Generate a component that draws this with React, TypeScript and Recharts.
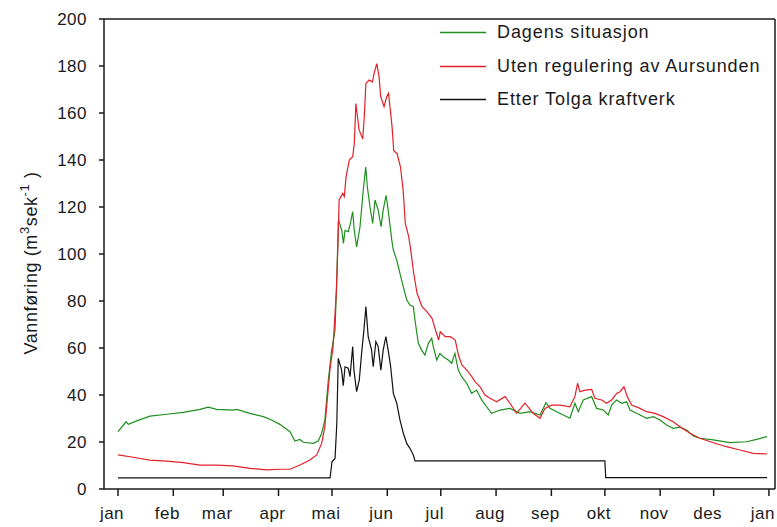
import { LineChart, Line, XAxis, YAxis, ReferenceLine } from 'recharts'

// dag i året (0 = 1. jan), vannføring m3/s
const dagens: [number, number][] = [
  [0, 24.4], [4.5, 28.6], [5.8, 27.5], [10.5, 29], [17.9, 31], [27.3, 31.8],
  [36.6, 32.6], [46, 33.9], [50.6, 34.8], [55.3, 33.9], [64.6, 33.6], [66.6, 33.9],
  [74, 32.2], [81.5, 30.8], [85.2, 29.7], [90.8, 27.5], [96.4, 24.4], [99.2, 20.4],
  [102, 21.1], [103.9, 19.9], [109.5, 19.4], [112.3, 20.4], [114.2, 23.7], [116, 29.4],
  [117.9, 46], [119.8, 59], [121.7, 67.7], [122.7, 90], [123.6, 114.5], [125.5, 110],
  [126.4, 104.5], [127.3, 110], [129.1, 109.5], [130.1, 112.3], [131.6, 118], [132.5, 110],
  [133.8, 103], [135.7, 111.6], [137.5, 127], [138.9, 137], [139.8, 128.6], [141.3, 120],
  [142.8, 113], [144.1, 123], [145.9, 118.7], [147.5, 111.6], [148.7, 118.7], [150.3, 125],
  [151.5, 118.7], [153.5, 106], [154.4, 101.7], [156.3, 97.4], [158.1, 91.8], [160, 86],
  [161.9, 80.4], [163.7, 78.3], [165.6, 77.6], [166.5, 72], [168.4, 62], [170.3, 59.1],
  [172.1, 57], [174, 62], [175.9, 64.1], [176.8, 60.6], [178.7, 54.9], [180.5, 57.7],
  [182.4, 56.3], [185.2, 54.9], [187.1, 53.5], [188.9, 57.7], [190.8, 50.6], [192.7, 47.8],
  [195.5, 45], [198.3, 40.7], [201.1, 42.1], [203.9, 37.9], [206.7, 35], [209.5, 32.2],
  [214.2, 33.6], [219.8, 34.3], [225.4, 32.2], [231, 32.9], [236.6, 31.5], [240, 36.7],
  [242.2, 34.3], [246, 32.9], [249.7, 31.5], [253.4, 30.1], [256.2, 36.5], [258.1, 32.9],
  [260.9, 37.9], [265.6, 39.3], [268.4, 34.3], [272.1, 33.6], [274.9, 31.5], [276.8, 35.7],
  [279.6, 37.9], [282.4, 36.5], [285.2, 37.1], [287.1, 33.6], [292.7, 31.5], [296.4, 30.1],
  [300.1, 30.8], [303.9, 29.4], [307.6, 27.2], [311.3, 25.8], [315.1, 26.3], [318.8, 25.1],
  [322.6, 22.6], [326.3, 21.6], [333.8, 20.9], [343.1, 19.7], [352.5, 20.1], [358.1, 21.1],
  [364, 22.3],
]

const utenRegulering: [number, number][] = [
  [0, 14.5], [8.6, 13.5], [17.9, 12.3], [27.3, 11.9], [36.6, 11.2], [46, 10.2],
  [55.3, 10.2], [64.6, 9.8], [74, 8.8], [83.4, 8.1], [90.8, 8.4], [96.4, 8.4],
  [102, 10.2], [107.6, 12.3], [111.4, 14.5], [114.2, 19.4], [116, 26.5], [117, 35],
  [118.8, 50.6], [120.6, 60.6], [122.5, 84.7], [123.4, 106], [124, 123], [126, 125.8],
  [126.9, 124.4], [127.9, 132.9], [129.7, 140], [131.6, 141.4], [132.5, 147], [133.4, 164],
  [134.3, 158.4], [135.2, 152.8], [137.2, 149], [138.1, 158.4], [139, 172.6], [140.8, 174],
  [142.7, 173.3], [143.6, 176.9], [145.1, 181], [146.4, 175.4], [147.3, 167], [149.2, 162.7],
  [150.7, 167], [151.7, 168.4], [152.7, 161.3], [153.7, 154], [154.6, 144], [156.5, 142.8],
  [158.4, 137], [159.9, 127], [161.1, 113], [163, 107.4], [163.9, 103], [165.8, 91.8],
  [167.7, 83.3], [170.5, 77.6], [173.3, 75.4], [176.1, 72.6], [178, 67.7], [179.8, 63.4],
  [180.7, 66.9], [183.5, 64.8], [186.3, 64.8], [189.1, 63.4], [190.9, 57], [192.8, 52.8],
  [195.6, 50.6], [198.4, 47.8], [200.2, 45.7], [203, 43.5], [205.8, 40], [208.6, 38.6],
  [212.3, 37.1], [217, 39.3], [219.8, 36.5], [223.5, 32.2], [228.2, 36.5], [232.8, 32.2],
  [236.6, 30.1], [239.4, 34.3], [243.2, 35.7], [247.8, 35.7], [253.4, 35], [256.2, 39.3],
  [257.7, 45], [259, 41.4], [261.8, 42.1], [265.6, 42.4], [267.4, 38.6], [271.2, 37.9],
  [274, 36.5], [276.8, 37.9], [279.6, 40.7], [281.5, 41.4], [283.7, 43.5], [285.6, 39.3],
  [288, 35.7], [292.7, 34.3], [296.4, 32.9], [301.1, 32.2], [305.7, 30.8], [311.3, 28.6],
  [315.1, 26.5], [320.7, 23.7], [326.3, 21.6], [333.8, 19.7], [341.3, 18], [348.7, 16.6],
  [356.2, 15.2], [364, 14.9],
]

const etterTolga: [number, number][] = [
  [0, 4.7], [118.9, 4.7], [120, 11.6], [121.7, 13], [122.7, 28], [123.5, 55.6],
  [125.4, 50.6], [126.3, 44], [127.3, 52], [129.1, 51.4], [130.1, 47.8], [131.6, 60.6],
  [132.3, 50.6], [133.8, 41.4], [135.3, 46.4], [136.6, 57.7], [137.9, 67.7], [139, 77.6],
  [140.3, 64.8], [142.2, 59.1], [143.1, 52], [144.6, 62.7], [145.9, 60.6], [147.4, 50.6],
  [148.7, 59.1], [150.2, 64.8], [151.5, 59.1], [152.9, 52], [154.4, 40.7], [156.3, 36.5],
  [158.1, 29.4], [160, 23.7], [161.9, 19.4], [163.7, 17.3], [165.6, 14.5], [166.5, 12],
  [273, 12], [273.5, 4.8], [364, 4.8],
]

const monthTicks = [0, 31, 59, 90, 120, 151, 181, 212, 243, 273, 304, 334, 365]
const monthLabels = ['jan', 'feb', 'mar', 'apr', 'mai', 'jun', 'jul', 'aug', 'sep', 'okt', 'nov', 'des', 'jan']
const flowTicks = [0, 20, 40, 60, 80, 100, 120, 140, 160, 180, 200]

const SERIES = [
  { name: 'Dagens situasjon', color: '#1f8f1f', data: dagens },
  { name: 'Uten regulering av Aursunden', color: '#e3202a', data: utenRegulering },
  { name: 'Etter Tolga kraftverk', color: '#111111', data: etterTolga },
]

const FONT = '"Liberation Sans", Arial, sans-serif'
const TEXT = '#1a1a1a'

function AxisTitle() {
  return (
    <text
      transform="translate(37, 263) rotate(-90)"
      textAnchor="middle"
      fontFamily={FONT}
      fontSize={18}
      fill={TEXT}
      letterSpacing={0.6}
    >
      Vannføring (m<tspan dy={-8} fontSize={13}>3</tspan>
      <tspan dy={8}>sek</tspan>
      <tspan dy={-8} fontSize={13}>-1</tspan>
      <tspan dy={8}> )</tspan>
    </text>
  )
}

// månedsnavnene står litt til venstre for merkestreken, som i originalen
function MonthTick({ x, y, payload }: { x?: number; y?: number; payload?: { value: number } }) {
  const label = monthLabels[monthTicks.indexOf(payload?.value ?? 0)]
  return (
    <text
      x={(x ?? 0) - 6}
      y={y}
      dy="0.71em"
      textAnchor="middle"
      fontFamily={FONT}
      fontSize={17}
      fill={TEXT}
      letterSpacing={0.5}
    >
      {label}
    </text>
  )
}

function LegendBox() {
  return (
    <div
      style={{
        position: 'absolute', top: 16, left: 440,
        fontFamily: FONT, fontSize: 18, letterSpacing: 0.9, color: TEXT,
      }}
    >
      {SERIES.map((s) => (
        <div key={s.name} style={{ display: 'flex', alignItems: 'center', height: 33.5, whiteSpace: 'nowrap' }}>
          <svg width={46} height={3} style={{ marginRight: 11 }}>
            <line x1={0} y1={1.5} x2={46} y2={1.5} stroke={s.color} strokeWidth={1.3} />
          </svg>
          <span>{s.name}</span>
        </div>
      ))}
    </div>
  )
}

export default function App() {
  return (
    <div style={{ position: 'absolute', left: 0, top: 0, width: 777, height: 527, background: '#fff' }}>
      <LineChart width={777} height={527} margin={{ top: 19, right: 2, left: 0, bottom: 0 }}>
        <XAxis
          type="number"
          dataKey="d"
          domain={[-7.85, 368.4]}
          allowDataOverflow
          ticks={monthTicks}
          interval={0}
          height={38}
          tickSize={7}
          tickMargin={11}
          stroke="#1a1a1a"
          strokeWidth={1.5}
          tick={<MonthTick />}
        />
        <YAxis
          type="number"
          domain={[0, 200]}
          ticks={flowTicks}
          interval={0}
          width={104}
          tickSize={5}
          tickMargin={12}
          stroke="#1a1a1a"
          strokeWidth={1.5}
          tick={{ fontFamily: FONT, fontSize: 17, fill: TEXT, letterSpacing: 0.5 }}
          label={<AxisTitle />}
        />
        <ReferenceLine y={200} stroke="#1a1a1a" strokeWidth={1.5} />
        <ReferenceLine x={368.4} stroke="#1a1a1a" strokeWidth={1.5} />
        {SERIES.map((s) => (
          <Line
            key={s.name}
            name={s.name}
            data={s.data.map(([d, v]) => ({ d, v }))}
            dataKey="v"
            type="linear"
            stroke={s.color}
            strokeWidth={1.2}
            dot={false}
            isAnimationActive={false}
          />
        ))}
      </LineChart>
      <LegendBox />
    </div>
  )
}
